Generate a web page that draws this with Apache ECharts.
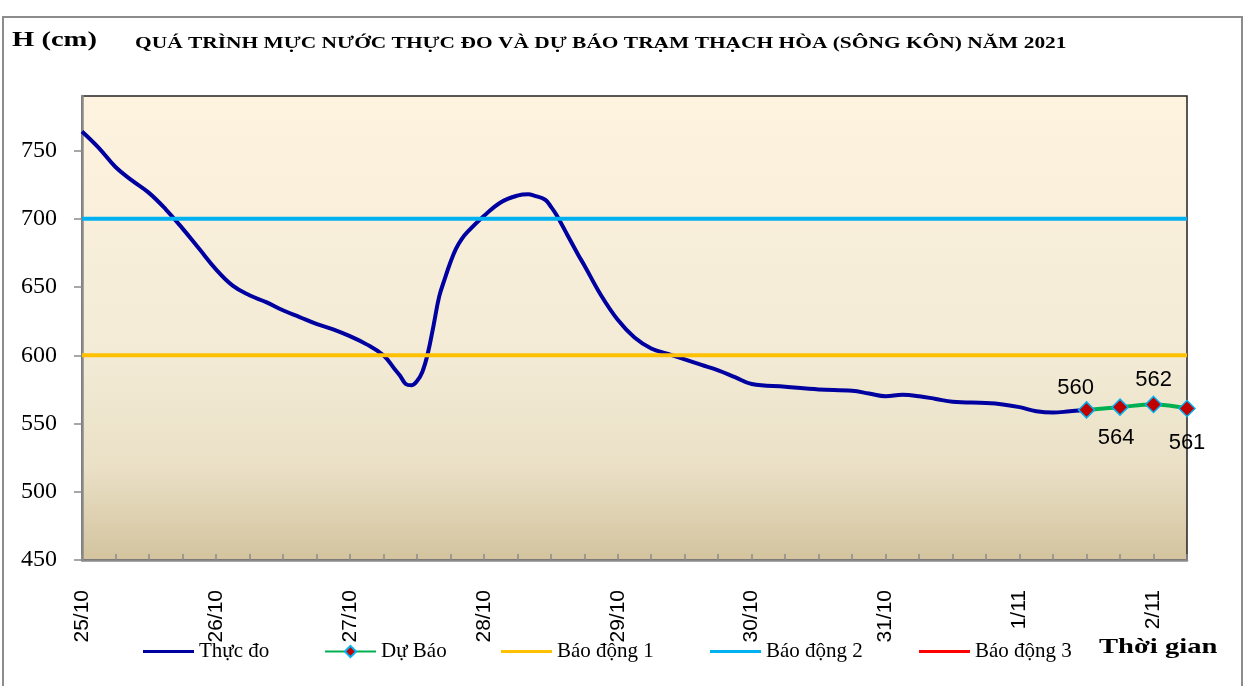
<!DOCTYPE html>
<html>
<head>
<meta charset="utf-8">
<script src="https://cdn.jsdelivr.net/npm/echarts@6/dist/echarts.min.js"></script>
<style>
html,body{margin:0;padding:0;background:#fff;}
#c{width:1249px;height:686px;}
</style>
</head>
<body>
<div id="c"></div>
<script>
// ---- data ----
var dayLabels = ['25/10','26/10','27/10','28/10','29/10','30/10','31/10','1/11','2/11'];
var yTicks = [450, 500, 550, 600, 650, 700, 750];
// hours since 25/10 00h
var obsHours = [0,3,6,9,12,15,18,21,24,27,30,33,36,39,42,45,48,51,54,56,57,58,59,60,61,62,63,64,65,66,67,68,69,72,75,78,80,81,83,84,85,87,89,90,93,96,99,102,105,108,111,114,117,120,126,132,138,141,144,147,150,153,156,162,165,168,171,174,177,180];
var obsLevels = [764,752,738,728,719,707,693,678,663,651,644,639,633,628,623,619,614,608,600,590,585,579,578,581,588,602,622,643,656,668,678,685,690,702,712,717,718,717,714,709,703,688,673,666,644,626,613,605,601,597,593,589,584,579,577,575,574,572,570,571,570,568,566,565,564,562,559,558,559,560];
var fcHours = [180, 186, 192, 198];
var fcLevels = [560, 562, 564, 561];
var fcLabels = ['560', '564', '562', '561'];
var alert1 = 600, alert2 = 700, alert3 = 800;

var SERIF = '"Liberation Serif","Times New Roman",serif';
var SANS = '"Liberation Sans",Arial,sans-serif';

function pairs(xs, ys){ return xs.map(function(x,i){ return [x, ys[i]]; }); }
var xMax = 198;
var lblPos = ['top','bottom','top','bottom'];
var lblOff = [[-11,3],[-4,6],[0,0],[0,10]];
var fcData = fcHours.map(function(h,i){
  return {value:[h, fcLevels[i]], label:{show:true, position:lblPos[i], offset:lblOff[i], formatter:fcLabels[i]}};
});

var chart = echarts.init(document.getElementById('c'), null, {renderer:'canvas'});
var legendCommon = {top:636, itemWidth:51, itemGap:10, textStyle:{fontFamily:SERIF, fontSize:21, color:'#000'}, selectedMode:false};
function lg(name, left, lineOnly){
  var d = lineOnly ? {name:name, icon:'rect'} : {name:name};
  return Object.assign({}, legendCommon, {left:left, data:[d], itemHeight: lineOnly ? 3 : 14});
}

chart.setOption({
  backgroundColor:'#fff',
  animation:false,
  graphic:[
    {type:'rect', shape:{x:3,y:17,width:1239,height:700}, style:{fill:'none', stroke:'#8c8c8c', lineWidth:2}, silent:true},
    {type:'text', x:12, y:29, scaleX:1.3, style:{text:'H (cm)', font:'bold 22px '+SERIF, fill:'#000'}},
    {type:'text', x:135, y:35, scaleX:1.26, style:{text:'QUÁ TRÌNH MỰC NƯỚC THỰC ĐO VÀ DỰ BÁO TRẠM THẠCH HÒA (SÔNG KÔN) NĂM 2021', font:'bold 17px '+SERIF, fill:'#000'}},
    {type:'text', x:1099, y:636, scaleX:1.3, style:{text:'Thời gian', font:'bold 22px '+SERIF, fill:'#000'}}
  ],
  legend:[lg('Thực đo',138,true), lg('Dự Báo',319,false), lg('Báo động 1',496,true), lg('Báo động 2',705,true), lg('Báo động 3',914,true)],
  grid:{left:82, right:62, top:96, bottom:126, show:true,
    backgroundColor:{type:'linear', x:0, y:0, x2:0, y2:1, colorStops:[
      {offset:0, color:'#FEF3DF'},{offset:0.55, color:'#F3EBD6'},{offset:0.8, color:'#EAE0C6'},{offset:1, color:'#D3C39E'}]},
    borderColor:'#222', borderWidth:1.5},
  xAxis:{type:'value', min:0, max:xMax, interval:6,
    axisLine:{show:true, lineStyle:{color:'#8a8a8a', width:2.5}},
    axisTick:{show:true, inside:true, length:6, lineStyle:{color:'#8a8a8a', width:1.5},
      customValues: Array.from({length:34}, function(_,i){return i*6;})},
    axisLabel:{rotate:90, margin:30, fontFamily:SANS, fontSize:21, color:'#000',
      customValues: dayLabels.map(function(_,i){return i*24;}),
      formatter:function(v){ return dayLabels[Math.round(v/24)] || ''; }},
    splitLine:{show:false}},
  yAxis:{type:'value', min:450, max:790, interval:50,
    axisLine:{show:true, lineStyle:{color:'#8a8a8a', width:2.5}},
    axisTick:{show:true, inside:false, length:8, lineStyle:{color:'#8a8a8a', width:1.5}, customValues:yTicks},
    axisLabel:{margin:25, fontFamily:SERIF, fontSize:24, color:'#000', customValues:yTicks},
    splitLine:{show:false}},
  series:[
    {name:'Thực đo', type:'line', data:pairs(obsHours, obsLevels), smooth:0.4, symbol:'none',
      lineStyle:{color:'#0000A0', width:4}, itemStyle:{color:'#0000A0'}, z:3},
    {name:'Dự Báo', type:'line', data:fcData, smooth:0.4, symbol:'diamond', symbolSize:16,
      lineStyle:{color:'#00B050', width:4}, itemStyle:{color:'#C00000', borderColor:'#00B0F0', borderWidth:1.5},
      label:{fontFamily:SANS, fontSize:22, color:'#000'}, z:5},
    {name:'Báo động 1', type:'line', data:[[0,alert1],[xMax,alert1]], symbol:'none', lineStyle:{color:'#FFC000', width:4}, itemStyle:{color:'#FFC000'}, z:4},
    {name:'Báo động 2', type:'line', data:[[0,alert2],[xMax,alert2]], symbol:'none', lineStyle:{color:'#00B0F0', width:4}, itemStyle:{color:'#00B0F0'}, z:4},
    {name:'Báo động 3', type:'line', data:[[0,alert3],[xMax,alert3]], symbol:'none', lineStyle:{color:'#FF0000', width:4}, itemStyle:{color:'#FF0000'}, z:4}
  ]
});
</script>
</body>
</html>
